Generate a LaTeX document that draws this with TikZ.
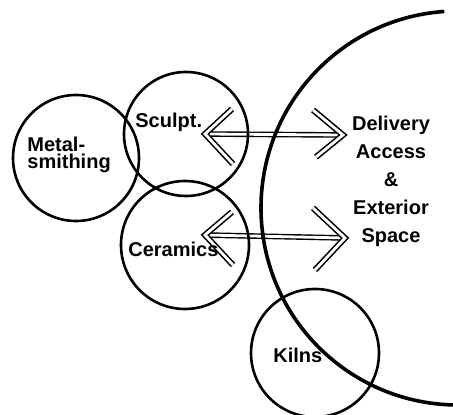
\documentclass[tikz,border=0pt]{standalone}
\usepackage{fontspec}
\setmainfont{Liberation Sans}

\begin{document}
\begin{tikzpicture}[x=0.5pt,y=-0.5pt,
  ring/.style={draw,circle,line width=1.3pt,minimum size=#1,inner sep=0pt},
  word/.style={font=\bfseries\fontsize{10}{14}\selectfont,inner sep=0pt},
  shaft/.style={double,line width=0.7pt,double distance=1.4pt},
  chevron/.style={double,line width=0.8pt,double distance=1.4pt,line join=miter}]

  \useasboundingbox (0,0) rectangle (453,415);

  % arrows
  \coordinate (sculpt-in) at (205,134);
  \coordinate (sculpt-out) at (343,135);
  \coordinate (ceram-in) at (205,235);
  \coordinate (ceram-out) at (345,238);
  \draw[shaft] (sculpt-in) -- (sculpt-out);
  \draw[shaft] (ceram-in) -- (ceram-out);
  \draw[chevron] (sculpt-in) ++(27,-25) -- (sculpt-in) -- ++(28,30);
  \draw[chevron] (sculpt-out) ++(-30,-25) -- (sculpt-out) -- ++(-27,22);
  \draw[chevron] (ceram-in) ++(27,-23) -- (ceram-in) -- ++(28,30);
  \draw[chevron] (ceram-out) ++(-32,-30) -- (ceram-out) -- ++(-30,32);

  % shops
  \node [ring=63pt] (metal) at (76,158) {};
  \node [ring=62pt] (sculpt) at (186,134) {};
  \node [ring=64pt] (ceram) at (185,245) {};
  \node [ring=64pt] (kilns) at (315,353) {};

  % outside
  \coordinate (yard) at (458,208);
  \draw[line width=1.8pt] (yard) ++(266:197) arc[start angle=266,end angle=91,radius=197];

  \node [word,align=left,anchor=north west,font=\bfseries\fontsize{10}{8.5}\selectfont] (metal-t) at (27,137) {Metal-\\smithing};
  \node [word,anchor=base west] (sculpt-t) at (135,128) {Sculpt.};
  \node [word,anchor=base west] (ceram-t) at (128,257) {Ceramics};
  \node [word,anchor=base west] (kilns-t) at (273,362) {Kilns};
  \node [word,align=center,anchor=north] (yard-t) at (391,116) {Delivery\\Access\\\&\\Exterior\\Space};

\end{tikzpicture}
\end{document}
